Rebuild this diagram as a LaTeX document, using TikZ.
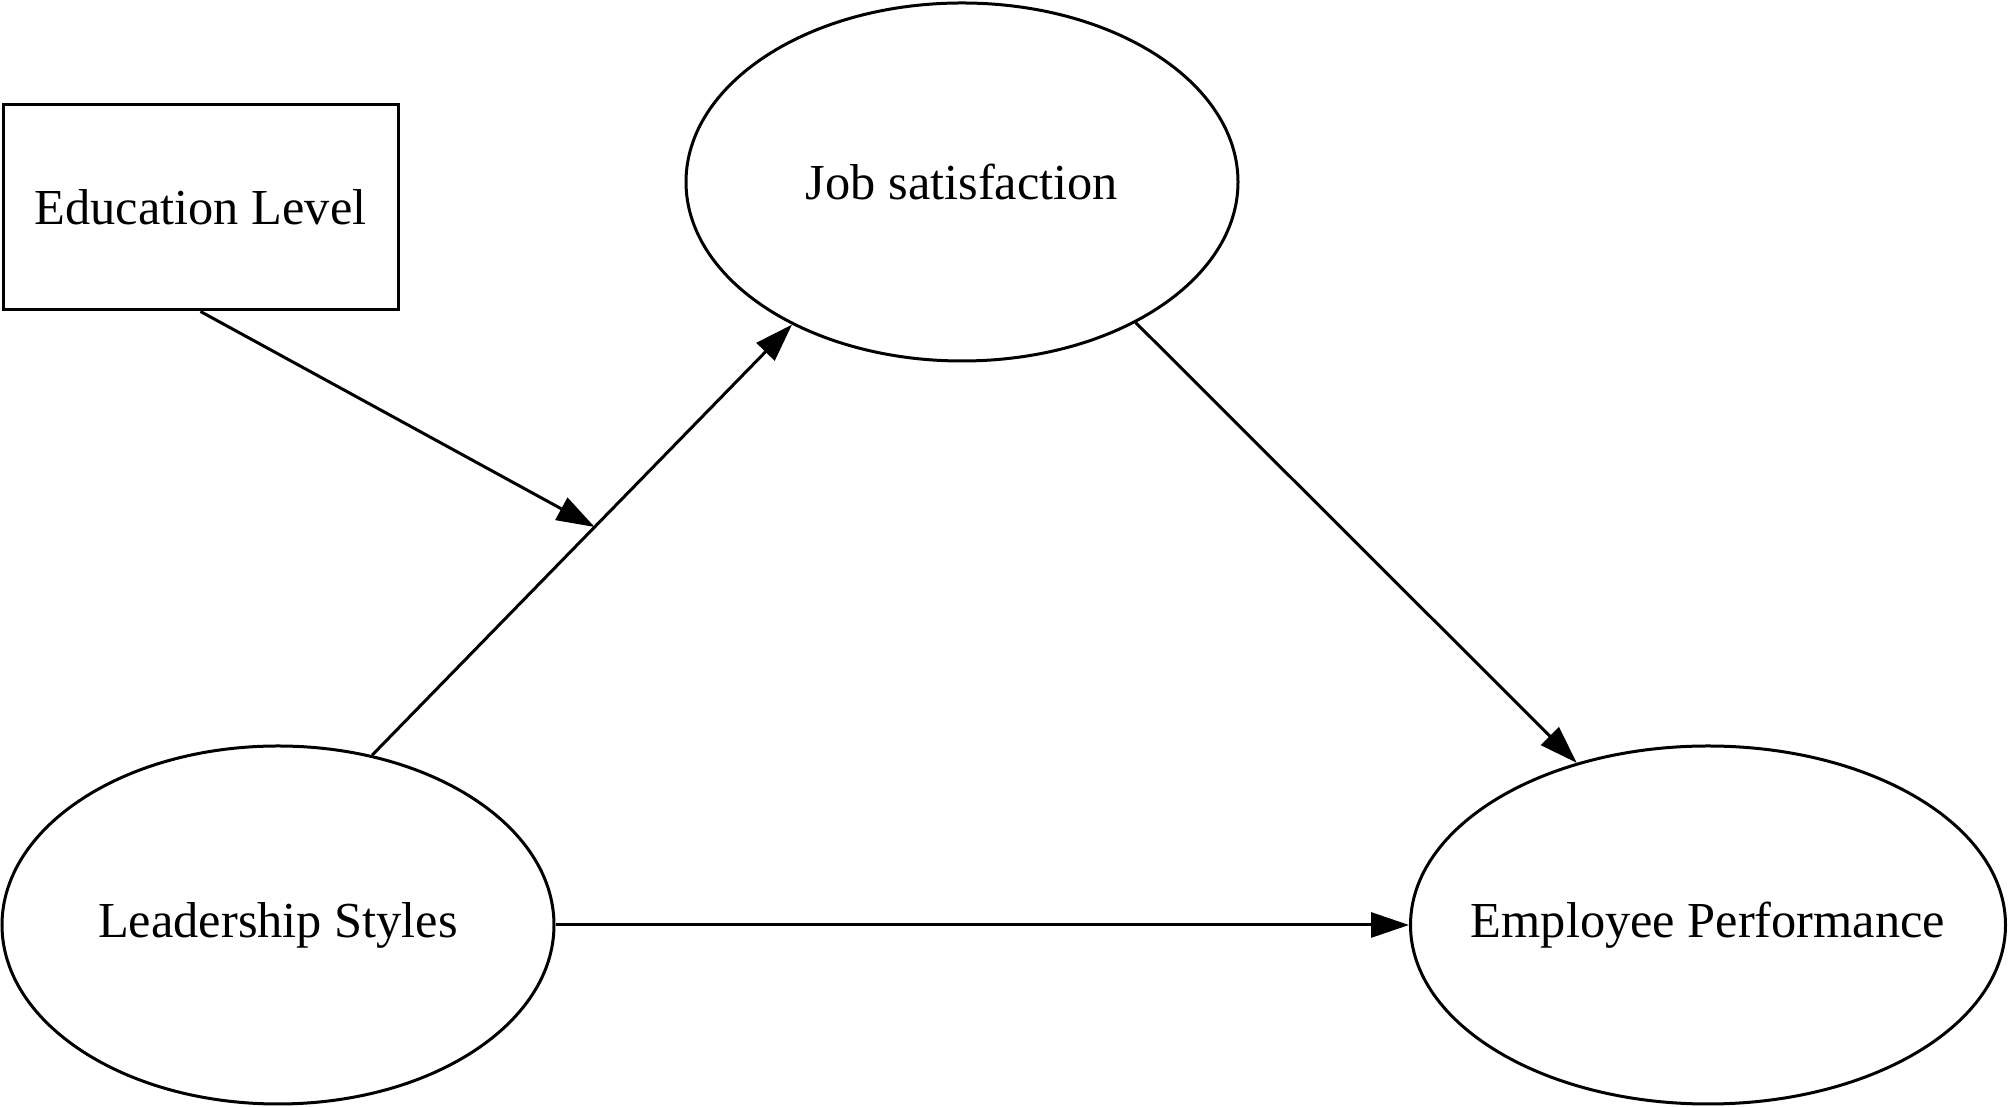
\documentclass[tikz,border=0pt]{standalone}
\usepackage{fontspec}
\setmainfont{Liberation Serif}
\usetikzlibrary{shapes.geometric,arrows.meta}
\begin{document}
\begin{tikzpicture}[x=0.5pt,y=0.5pt,
  every node/.style={font=\fontsize{25.2pt}{30pt}\selectfont, line width=1.5pt, inner sep=0pt},
  boxnode/.style={draw, rectangle, minimum width=197.5pt, minimum height=102.5pt},
  ellnode/.style={draw, ellipse, minimum height=179pt},
  conn/.style={line width=1.5pt, -{Triangle[length=19pt,width=12.5pt]}}]
\useasboundingbox (0,0) rectangle (2008,1107);
\node[boxnode] (edu) at (200.5,899.5) {Education Level};
\node[ellnode, minimum width=276pt] (js) at (962,925) {Job satisfaction};
\node[ellnode, minimum width=276pt] (ls) at (278,182) {Leadership Styles};
\node[ellnode, minimum width=297.5pt, label={center:Employee Performance}] (ep) at (1708,182) {};
\draw[conn] (ls.61) -- (js.220) coordinate[pos=0.53] (mid);
\draw[conn] (edu.south) -- (mid);
\draw[conn] (js.321) -- (ep.129);
\draw[conn] (ls.east) -- (ep.west);
\end{tikzpicture}
\end{document}
